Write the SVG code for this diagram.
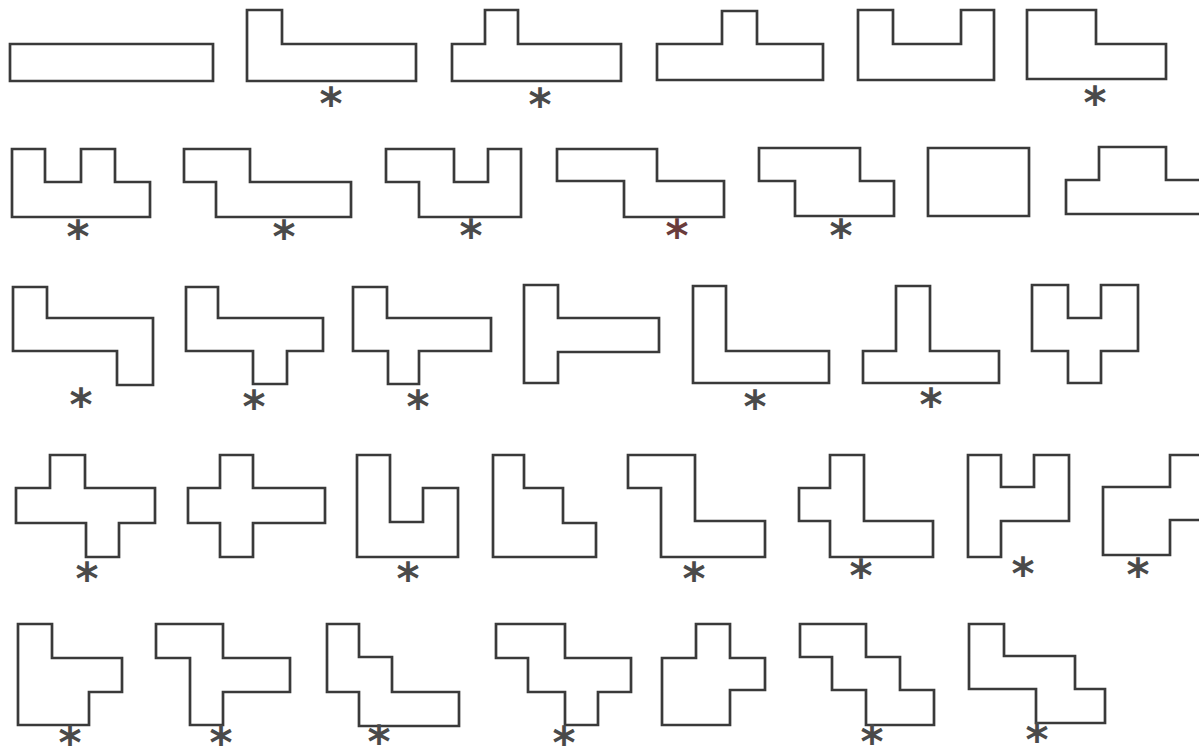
<svg xmlns="http://www.w3.org/2000/svg" width="1199" height="746" viewBox="0 0 1199 746">
<style>
.s{fill:none;stroke:#3a3a3a;stroke-width:2.7;stroke-linejoin:miter}
.a{font-family:"DejaVu Sans","Liberation Sans",sans-serif;font-size:44px;font-weight:bold;fill:#4a4a4a;text-anchor:middle}
.r{fill:#6a3c3c}
</style>
<rect width="1199" height="746" fill="#ffffff"/>
<g id="connectors"></g>
<!-- Row 1 -->
<g id="h1"><polygon class="s" points="10,44 213,44 213,81 10,81"/></g>
<g id="h2"><polygon class="s" points="247,10 282,10 282,44 416,44 416,81 247,81"/><text class="a" x="331" y="119">*</text></g>
<g id="h3"><polygon class="s" points="452,44 485,44 485,10 518,10 518,44 621,44 621,81 452,81"/><text class="a" x="540" y="120">*</text></g>
<g id="h4"><polygon class="s" points="657,44 722,44 722,11 757,11 757,44 823,44 823,80 657,80"/></g>
<g id="h5"><polygon class="s" points="858,10 893,10 893,44 961,44 961,10 994,10 994,80 858,80"/></g>
<g id="h6"><polygon class="s" points="1027,10 1096,10 1096,44 1166,44 1166,79 1027,79"/><text class="a" x="1095" y="118">*</text></g>
<!-- Row 2 -->
<g id="h7"><polygon class="s" points="12,149 45,149 45,182 81,182 81,149 115,149 115,182 150,182 150,217 12,217"/><text class="a" x="78" y="252">*</text></g>
<g id="h8"><polygon class="s" points="184,149 250,149 250,182 351,182 351,217 216,217 216,182 184,182"/><text class="a" x="284" y="252">*</text></g>
<g id="h9"><polygon class="s" points="386,149 454,149 454,182 488,182 488,149 521,149 521,217 419,217 419,182 386,182"/><text class="a" x="471" y="251">*</text></g>
<g id="h10"><polygon class="s" points="557,149 657,149 657,181 724,181 724,217 624,217 624,181 557,181"/><text class="a r" x="677" y="251">*</text></g>
<g id="h11"><polygon class="s" points="759,148 860,148 860,181 894,181 894,216 795,216 795,181 759,181"/><text class="a" x="841" y="251">*</text></g>
<g id="h12"><polygon class="s" points="928,148 1029,148 1029,216 928,216"/></g>
<g id="h13"><polygon class="s" points="1066,180 1099,180 1099,147 1166,147 1166,180 1202,180 1202,214 1066,214"/></g>
<!-- Row 3 -->
<g id="h14"><polygon class="s" points="13,287 47,287 47,318 153,318 153,385 117,385 117,351 13,351"/><text class="a" x="81" y="420">*</text></g>
<g id="h15"><polygon class="s" points="186,287 218,287 218,318 323,318 323,351 287,351 287,384 253,384 253,351 186,351"/><text class="a" x="254" y="422">*</text></g>
<g id="h16"><polygon class="s" points="353,287 387,287 387,318 491,318 491,351 419,351 419,384 388,384 388,351 353,351"/><text class="a" x="418" y="422">*</text></g>
<g id="h17"><polygon class="s" points="524,285 558,285 558,318 659,318 659,352 558,352 558,383 524,383"/></g>
<g id="h18"><polygon class="s" points="693,286 726,286 726,351 829,351 829,383 693,383"/><text class="a" x="755" y="422">*</text></g>
<g id="h19"><polygon class="s" points="863,351 896,351 896,286 930,286 930,351 999,351 999,383 863,383"/><text class="a" x="931" y="420">*</text></g>
<g id="h20"><polygon class="s" points="1032,285 1068,285 1068,318 1101,318 1101,285 1138,285 1138,351 1101,351 1101,383 1068,383 1068,351 1032,351"/></g>
<!-- Row 4 -->
<g id="h21"><polygon class="s" points="16,488 50,488 50,455 85,455 85,488 155,488 155,523 119,523 119,557 86,557 86,523 16,523"/><text class="a" x="87" y="594">*</text></g>
<g id="h22"><polygon class="s" points="188,488 220,488 220,455 253,455 253,488 325,488 325,523 253,523 253,557 220,557 220,523 188,523"/></g>
<g id="h23"><polygon class="s" points="357,455 390,455 390,522 423,522 423,488 458,488 458,557 357,557"/><text class="a" x="408" y="594">*</text></g>
<g id="h24"><polygon class="s" points="493,455 524,455 524,488 563,488 563,523 596,523 596,557 493,557"/></g>
<g id="h25"><polygon class="s" points="628,455 695,455 695,521 765,521 765,557 661,557 661,488 628,488"/><text class="a" x="694" y="594">*</text></g>
<g id="h26"><polygon class="s" points="830,455 864,455 864,521 933,521 933,557 830,557 830,521 799,521 799,488 830,488"/><text class="a" x="861" y="591">*</text></g>
<g id="h27"><polygon class="s" points="968,455 1001,455 1001,487 1034,487 1034,455 1069,455 1069,521 1001,521 1001,557 968,557"/><text class="a" x="1023" y="589">*</text></g>
<g id="h28"><polygon class="s" points="1103,487 1170,487 1170,455 1202,455 1202,520 1170,520 1170,555 1103,555"/><text class="a" x="1138" y="590">*</text></g>
<!-- Row 5 -->
<g id="h29"><polygon class="s" points="18,624 52,624 52,658 122,658 122,692 89,692 89,725 18,725"/><text class="a" x="70" y="758">*</text></g>
<g id="h30"><polygon class="s" points="156,624 223,624 223,658 290,658 290,692 223,692 223,725 190,725 190,658 156,658"/><text class="a" x="221" y="758">*</text></g>
<g id="h31"><polygon class="s" points="327,624 359,624 359,657 392,657 392,692 459,692 459,726 359,726 359,692 327,692"/><text class="a" x="379" y="757">*</text></g>
<g id="h32"><polygon class="s" points="496,624 565,624 565,658 631,658 631,692 598,692 598,725 565,725 565,692 528,692 528,658 496,658"/><text class="a" x="564" y="758">*</text></g>
<g id="h33"><polygon class="s" points="662,658 696,658 696,624 730,624 730,658 765,658 765,690 730,690 730,725 662,725"/></g>
<g id="h34"><polygon class="s" points="800,624 866,624 866,657 900,657 900,690 934,690 934,725 866,725 866,690 832,690 832,657 800,657"/><text class="a" x="872" y="757">*</text></g>
<g id="h35"><polygon class="s" points="969,624 1004,624 1004,656 1075,656 1075,689 1105,689 1105,723 1036,723 1036,689 969,689"/><text class="a" x="1037" y="755">*</text></g>
</svg>
